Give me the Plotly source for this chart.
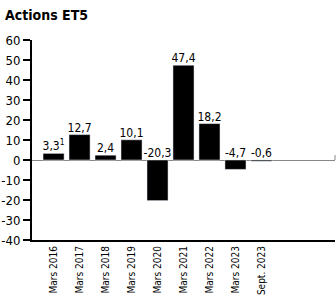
import plotly.graph_objects as go
import numpy as np

categories = ["Mars 2016", "Mars 2017", "Mars 2018", "Mars 2019", "Mars 2020",
              "Mars 2021", "Mars 2022", "Mars 2023", "Sept. 2023"]
values = [3.3, 12.7, 2.4, 10.1, -20.3, 47.4, 18.2, -4.7, -0.6]
labels = ["3,3<sup>1</sup>", "12,7", "2,4", "10,1", "-20,3", "47,4", "18,2", "-4,7", "-0,6"]
yticks = [60, 50, 40, 30, 20, 10, 0, -10, -20, -30, -40]

FONT = "DejaVu Sans Condensed, Liberation Sans Narrow, Arial Narrow, sans-serif"

fig = go.Figure()
fig.add_trace(go.Bar(x=categories, y=values, marker_color="black", width=0.81,
                     hoverinfo="skip"))
fig.add_trace(go.Scatter(x=categories, y=list(np.maximum(values, 0)), mode="text",
                         text=labels, textposition="top center",
                         textfont=dict(family=FONT, size=12, color="black"),
                         hoverinfo="skip"))

fig.add_shape(type="line", xref="paper", yref="y", x0=1, x1=1, y0=0, y1=2.5,
              line=dict(color="#888888", width=1))

fig.update_layout(
    width=336, height=296,
    margin=dict(l=32, r=1, t=40, b=56),
    plot_bgcolor="white", paper_bgcolor="white",
    showlegend=False,
    font=dict(family=FONT, size=12, color="black"),
    title=dict(text="<b>Actions ET5</b>", x=0.015, xanchor="left", y=0.965, yanchor="top",
               font=dict(family=FONT, size=14, color="black")),
    xaxis=dict(type="category", range=[-0.83, 10.83], showline=True, linecolor="black",
               linewidth=2, ticks="", tickangle=-90, tickfont=dict(size=10),
               showgrid=False, zeroline=False, fixedrange=True, automargin=False),
    yaxis=dict(range=[-40, 60], tickvals=yticks, ticktext=[str(v) for v in yticks],
               showline=True, linecolor="black", linewidth=2, ticks="outside",
               ticklen=7, tickwidth=1.5, tickcolor="black", showgrid=False,
               zeroline=True, zerolinecolor="#888888", zerolinewidth=1,
               tickfont=dict(size=13), fixedrange=True, automargin=False),
)
fig.write_html("out.html", config={"displayModeBar": False, "staticPlot": True},
               post_script="document.body.style.margin='0';document.body.style.padding='0';document.body.style.overflow='hidden';")
